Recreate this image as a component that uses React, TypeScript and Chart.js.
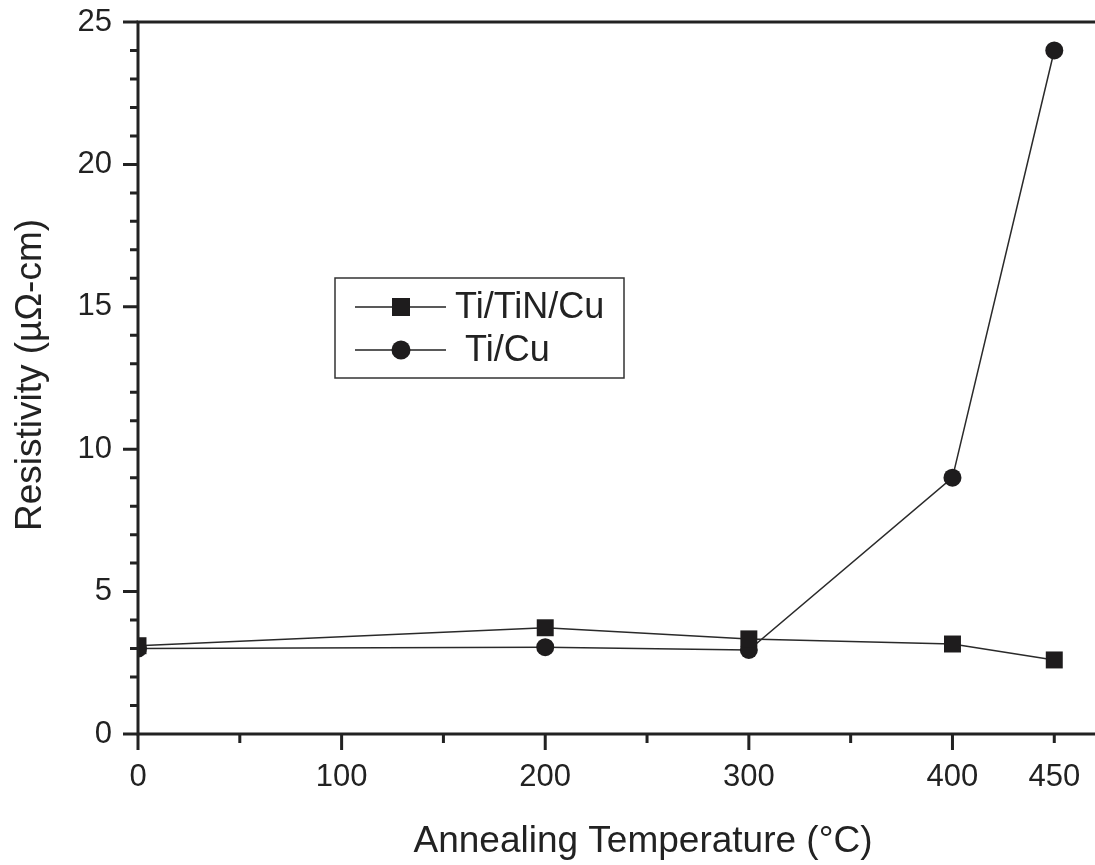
import React, { useEffect, useRef } from "react";
import { Chart, registerables } from "chart.js";
Chart.register(...registerables);

const temperatures = [0, 200, 300, 400, 450];
const tiTiNCu = [3.1, 3.73, 3.34, 3.16, 2.6];
const tiCu = [3.0, 3.05, 2.95, 9.0, 24.0];
const seriesNames = ["Ti/TiN/Cu", "Ti/Cu"];
const xTickLabels = [0, 100, 200, 300, 400, 450];
const xMajorTicks = [0, 100, 200, 300, 400];
const xMinorTicks = [50, 150, 250, 350, 450];
const yTickLabels = [0, 5, 10, 15, 20, 25];
const yMinorTicks = [1, 2, 3, 4, 6, 7, 8, 9, 11, 12, 13, 14, 16, 17, 18, 19, 21, 22, 23, 24];
const xTitle = "Annealing Temperature (°C)";
const yTitle = "Resistivity (µΩ-cm)";

const INK = "#222222";
const FONT = "'Liberation Sans', Arial, sans-serif";

const decorPlugin = {
  id: "decor",
  afterDraw(chart: any) {
    const ctx = chart.ctx as CanvasRenderingContext2D;
    const xs = chart.scales.x;
    const ys = chart.scales.y;
    const area = chart.chartArea;
    const left = area.left;
    const bottom = area.bottom;
    const top = area.top;
    const right = chart.width;
    ctx.save();
    ctx.strokeStyle = INK;
    ctx.lineWidth = 3;
    ctx.lineCap = "butt";
    // axes & top frame
    ctx.beginPath();
    ctx.moveTo(left, top);
    ctx.lineTo(left, bottom);
    ctx.moveTo(left - 1.5, bottom);
    ctx.lineTo(right, bottom);
    ctx.moveTo(left - 1.5, top);
    ctx.lineTo(right, top);
    ctx.stroke();
    // x ticks
    ctx.beginPath();
    xMajorTicks.forEach((v) => {
      const px = xs.getPixelForValue(v);
      ctx.moveTo(px, bottom);
      ctx.lineTo(px, bottom + 16);
    });
    xMinorTicks.forEach((v) => {
      const px = xs.getPixelForValue(v);
      ctx.moveTo(px, bottom);
      ctx.lineTo(px, bottom + 9);
    });
    // y ticks
    yTickLabels.forEach((v) => {
      const py = ys.getPixelForValue(v);
      ctx.moveTo(left, py);
      ctx.lineTo(left - 15, py);
    });
    yMinorTicks.forEach((v) => {
      const py = ys.getPixelForValue(v);
      ctx.moveTo(left, py);
      ctx.lineTo(left - 8, py);
    });
    ctx.stroke();

    // axis titles
    ctx.fillStyle = INK;
    ctx.font = `37px ${FONT}`;
    ctx.textAlign = "center";
    ctx.textBaseline = "middle";
    ctx.fillText(xTitle, 643, 842);
    ctx.save();
    ctx.translate(31, 375);
    ctx.rotate(-Math.PI / 2);
    ctx.fillText(yTitle, 0, 0);
    ctx.restore();

    // legend
    const bx = 335, by = 278, bw = 289, bh = 100;
    ctx.fillStyle = "#ffffff";
    ctx.fillRect(bx, by, bw, bh);
    ctx.lineWidth = 1.5;
    ctx.strokeStyle = "#333333";
    ctx.strokeRect(bx, by, bw, bh);
    const rows = [307, 350];
    const textX = [455, 465];
    chart.data.datasets.forEach((ds: any, i: number) => {
      const ry = rows[i];
      ctx.strokeStyle = "#222222";
      ctx.lineWidth = 1.5;
      ctx.beginPath();
      ctx.moveTo(355, ry);
      ctx.lineTo(446, ry);
      ctx.stroke();
      ctx.fillStyle = "#1e1c1d";
      if (ds.pointStyle === "rect") {
        ctx.fillRect(401 - 9, ry - 9, 18, 18);
      } else {
        ctx.beginPath();
        ctx.arc(401, ry, 9.5, 0, Math.PI * 2);
        ctx.fill();
      }
      ctx.fillStyle = INK;
      ctx.font = `36px ${FONT}`;
      ctx.textAlign = "left";
      ctx.textBaseline = "middle";
      ctx.fillText(ds.label, textX[i], ry + 1);
    });
    ctx.restore();
  },
};

export default function App() {
  const ref = useRef<HTMLCanvasElement | null>(null);
  useEffect(() => {
    if (!ref.current) return;
    const mk = (ys: number[]) => temperatures.map((t, i) => ({ x: t, y: ys[i] }));
    const chart = new Chart(ref.current, {
      type: "line",
      data: {
        datasets: [
          {
            label: seriesNames[0],
            data: mk(tiTiNCu),
            borderColor: "#2a2a2a",
            borderWidth: 1.5,
            backgroundColor: "#1e1c1d",
            pointBackgroundColor: "#1e1c1d",
            pointBorderColor: "#1e1c1d",
            pointBorderWidth: 0,
            pointStyle: "rect",
            pointRadius: 12,
            pointHoverRadius: 12,
            tension: 0,
          },
          {
            label: seriesNames[1],
            data: mk(tiCu),
            borderColor: "#2a2a2a",
            borderWidth: 1.5,
            backgroundColor: "#1e1c1d",
            pointBackgroundColor: "#1e1c1d",
            pointBorderColor: "#1e1c1d",
            pointBorderWidth: 0,
            pointStyle: "circle",
            pointRadius: 9,
            pointHoverRadius: 9,
            tension: 0,
          },
        ],
      },
      options: {
        animation: false,
        responsive: false,
        events: [],
        layout: { autoPadding: false, padding: { top: 22, right: 0, left: 0, bottom: 0 } },
        plugins: { legend: { display: false }, tooltip: { enabled: false } },
        scales: {
          x: {
            type: "linear",
            min: 0,
            max: 470,
            grid: { display: false, drawTicks: false },
            border: { display: false },
            afterBuildTicks: (s: any) => {
              s.ticks = xTickLabels.map((v) => ({ value: v }));
            },
            afterFit: (s: any) => {
              s.height = 131;
              s.paddingLeft = 0;
              s.paddingRight = 0;
              s.paddingTop = 0;
              s.paddingBottom = 0;
            },
            ticks: {
              autoSkip: false,
              maxRotation: 0,
              padding: 25,
              color: INK,
              font: { family: FONT, size: 31 },
              callback: (v: any) => String(v),
            },
          },
          y: {
            type: "linear",
            min: 0,
            max: 25,
            grid: { display: false, drawTicks: false },
            border: { display: false },
            afterBuildTicks: (s: any) => {
              s.ticks = yTickLabels.map((v) => ({ value: v }));
            },
            afterFit: (s: any) => {
              s.width = 138;
              s.paddingLeft = 0;
              s.paddingRight = 0;
              s.paddingTop = 0;
              s.paddingBottom = 0;
            },
            ticks: {
              padding: 26,
              color: INK,
              font: { family: FONT, size: 31 },
              callback: (v: any) => String(v),
            },
          },
        },
      },
      plugins: [decorPlugin],
    } as any);
    return () => chart.destroy();
  }, []);
  return (
    <div style={{ position: "fixed", left: 0, top: 0, width: 1095, height: 865, background: "#fff" }}>
      <canvas ref={ref} width={1095} height={865} style={{ display: "block" }} />
    </div>
  );
}
